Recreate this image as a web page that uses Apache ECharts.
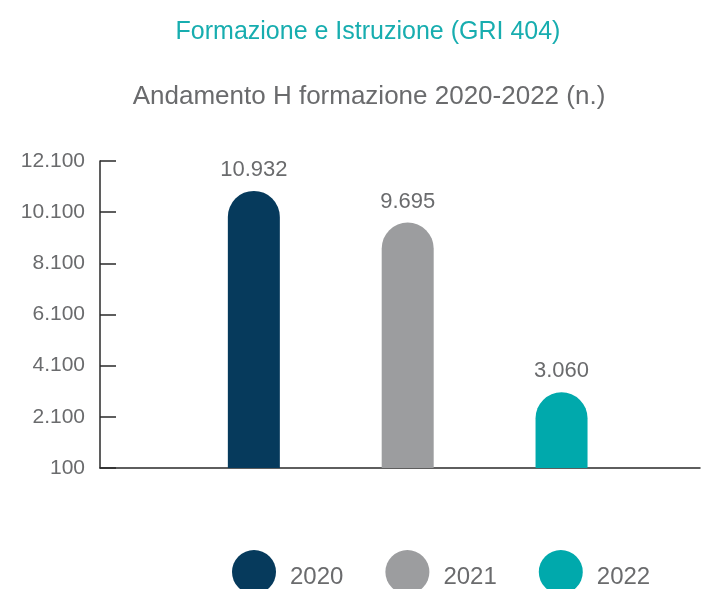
<!DOCTYPE html>
<html>
<head>
    <meta charset="utf-8">
    <title>Formazione e Istruzione (GRI 404)</title>
    <script src="https://cdn.jsdelivr.net/npm/echarts@6/dist/echarts.min.js"></script>
    <style>
        html, body { margin: 0; padding: 0; background: #fff; }
        #chart { width: 703px; height: 589px; }
    </style>
</head>
<body>
<div id="chart"></div>
<script type="text/javascript">
    // dati
    var anni = ['2020', '2021', '2022'];
    var ore = [10932, 9695, 3060];
    var colori = ['#063a5c', '#9c9d9f', '#00a9ac'];
    var yTicks = [100, 2100, 4100, 6100, 8100, 10100, 12100];

    // separatore migliaia con punto
    function fmt(v) {
        return String(v).replace(/\B(?=(\d{3})+(?!\d))/g, '.');
    }

    var font = 'Liberation Sans';
    var grigio = '#6a6b6d';

    var series = anni.map(function (a, i) {
        return {
            name: a,
            type: 'bar',
            barWidth: 52,
            barGap: '-100%',
            data: [[i + 1, ore[i]]],
            itemStyle: { color: colori[i], borderRadius: [26, 26, 0, 0] },
            label: {
                show: true,
                position: 'top',
                distance: 10,
                fontFamily: font,
                fontSize: 22,
                color: grigio,
                formatter: function (p) { return fmt(p.value[1]); }
            }
        };
    });

    var myChart = echarts.init(document.getElementById('chart'));
    myChart.setOption({
        animation: false,
        title: [{
            text: 'Formazione e Istruzione (GRI 404)',
            left: 363,
            textAlign: 'center',
            top: 15,
            textStyle: { fontFamily: font, fontSize: 25, fontWeight: 'normal', color: '#17adaf' }
        }, {
            text: 'Andamento H formazione 2020-2022 (n.)',
            left: 364,
            textAlign: 'center',
            top: 79,
            textStyle: { fontFamily: font, fontSize: 26, fontWeight: 'normal', color: grigio }
        }],
        legend: {
            data: anni,
            left: 227,
            top: 545,
            icon: 'circle',
            itemWidth: 44,
            itemHeight: 44,
            itemGap: 42,
            formatter: '{t|{name}}',
            textStyle: {
                fontFamily: font, fontSize: 24, color: grigio,
                rich: { t: { fontFamily: font, fontSize: 24, color: grigio, padding: [11, 0, 0, 9] } }
            }
        },
        grid: { left: 100, right: 3, top: 161, bottom: 121 },
        xAxis: {
            type: 'value',
            min: 0,
            max: 3.9,
            splitLine: { show: false },
            axisTick: { show: false },
            axisLabel: { show: false },
            axisLine: { show: true, lineStyle: { color: '#2a2a2a', width: 1.5 } }
        },
        yAxis: {
            type: 'value',
            min: yTicks[0],
            max: yTicks[yTicks.length - 1],
            interval: yTicks[1] - yTicks[0],
            splitLine: { show: false },
            axisLine: { show: true, lineStyle: { color: '#2a2a2a', width: 1.5 } },
            axisTick: { show: true, inside: true, length: 16, lineStyle: { color: '#2a2a2a', width: 1.5 } },
            axisLabel: {
                margin: 15,
                fontFamily: font,
                fontSize: 21,
                color: grigio,
                formatter: fmt
            }
        },
        series: series
    });
</script>
</body>
</html>
